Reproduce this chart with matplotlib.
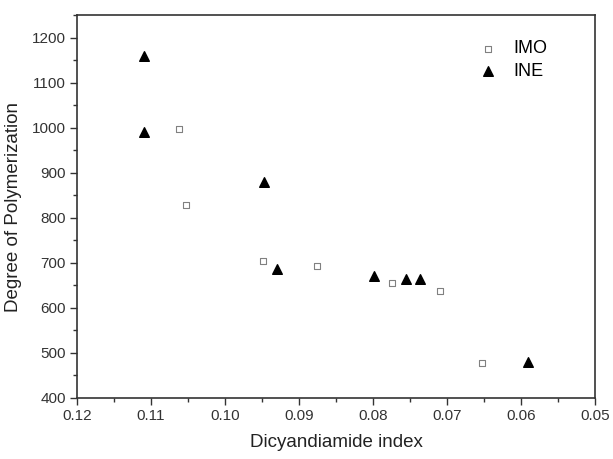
import matplotlib
matplotlib.use("Agg")
import matplotlib.pyplot as plt
from matplotlib.ticker import MultipleLocator

# Data
imo_x = [0.1062, 0.1053, 0.0949, 0.0876, 0.0774, 0.0709, 0.0653]
imo_y = [996, 828, 705, 692, 655, 638, 478]
ine_x = [0.1110, 0.1110, 0.0947, 0.0930, 0.0799, 0.0755, 0.0736, 0.0591]
ine_y = [1160, 990, 879, 686, 671, 663, 664, 479]

plt.rcParams['font.family'] = ['Liberation Sans', 'DejaVu Sans']

fig = plt.figure(figsize=(6.13, 4.59), dpi=100)
ax = fig.add_axes([0.1256, 0.1329, 0.845, 0.8344])

ax.scatter(imo_x, imo_y, marker='s', s=22, facecolors='white',
           edgecolors='#808080', linewidths=0.8, label='IMO', zorder=3)
ax.scatter(ine_x, ine_y, marker='^', s=48, color='black', label='INE', zorder=3)

ax.set_xlim(0.12, 0.05)
ax.set_ylim(400, 1250)
ax.xaxis.set_minor_locator(MultipleLocator(0.005))
ax.yaxis.set_minor_locator(MultipleLocator(50))
ax.set_xticks([0.12, 0.11, 0.10, 0.09, 0.08, 0.07, 0.06, 0.05])
ax.set_xticklabels(['0.12', '0.11', '0.10', '0.09', '0.08', '0.07', '0.06', '0.05'])
ax.set_yticks(range(400, 1201, 100))

ax.tick_params(which='major', direction='out', length=5, width=1, pad=3,
               labelsize=11, color='#333333', labelcolor='#333333')
ax.tick_params(which='minor', direction='out', length=3, width=1, color='#333333')
for sp in ax.spines.values():
    sp.set_color('#333333')
    sp.set_linewidth(1.2)

ax.set_xlabel('Dicyandiamide index', fontsize=13.5, color='#222222', labelpad=8)
ax.set_ylabel('Degree of Polymerization', fontsize=13.5, color='#222222', labelpad=7)

ax.legend(loc='upper left', bbox_to_anchor=(0.745, 0.976), frameon=False,
          fontsize=13, handlelength=1.0, handletextpad=0.9, labelspacing=0.3,
          borderpad=0.4)

fig.savefig('out.png', dpi=100)
